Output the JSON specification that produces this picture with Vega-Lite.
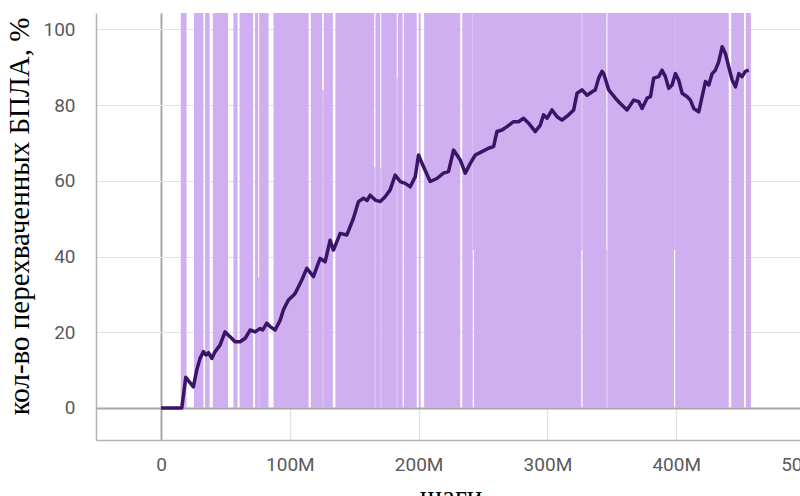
{
  "$schema": "https://vega.github.io/schema/vega-lite/v6.json",
  "width": 709,
  "height": 427,
  "autosize": "none",
  "padding": {"left": 96, "top": 13, "right": -5, "bottom": 56},
  "background": "white",
  "config": {"view": {"stroke": null}},
  "datasets": {
    "raw": [
      {"start": 15300000, "end": 19800000, "low": 0, "high": 105},
      {"start": 25600000, "end": 32900000, "low": 0, "high": 105},
      {"start": 34200000, "end": 37700000, "low": 0, "high": 105},
      {"start": 40200000, "end": 52100000, "low": 0, "high": 105},
      {"start": 56200000, "end": 59400000, "low": 0, "high": 105},
      {"start": 61000000, "end": 71500000, "low": 0, "high": 105},
      {"start": 73000000, "end": 75400000, "low": 0, "high": 105},
      {"start": 75400000, "end": 76200000, "low": 0, "high": 34.5},
      {"start": 76200000, "end": 83500000, "low": 0, "high": 105},
      {"start": 87300000, "end": 114600000, "low": 0, "high": 105},
      {"start": 116300000, "end": 125100000, "low": 0, "high": 105},
      {"start": 125100000, "end": 126300000, "low": 0, "high": 84},
      {"start": 126300000, "end": 133400000, "low": 0, "high": 105},
      {"start": 135400000, "end": 165500000, "low": 0, "high": 105},
      {"start": 165500000, "end": 166500000, "low": 0, "high": 63.6},
      {"start": 166500000, "end": 170200000, "low": 0, "high": 105},
      {"start": 170200000, "end": 171000000, "low": 0, "high": 63.6},
      {"start": 171000000, "end": 183000000, "low": 0, "high": 105},
      {"start": 183000000, "end": 183800000, "low": 0, "high": 87},
      {"start": 183800000, "end": 187600000, "low": 0, "high": 105},
      {"start": 188500000, "end": 198500000, "low": 0, "high": 105},
      {"start": 200100000, "end": 201600000, "low": 0, "high": 105},
      {"start": 204300000, "end": 232300000, "low": 0, "high": 105},
      {"start": 233900000, "end": 242000000, "low": 0, "high": 105},
      {"start": 242000000, "end": 243000000, "low": 41.7, "high": 105},
      {"start": 243000000, "end": 326300000, "low": 0, "high": 105},
      {"start": 326300000, "end": 327300000, "low": 41.7, "high": 105},
      {"start": 327300000, "end": 345800000, "low": 0, "high": 105},
      {"start": 345800000, "end": 346600000, "low": 0, "high": 41.7},
      {"start": 346600000, "end": 398300000, "low": 0, "high": 105},
      {"start": 398300000, "end": 399200000, "low": 41.7, "high": 105},
      {"start": 399200000, "end": 440800000, "low": 0, "high": 105},
      {"start": 442700000, "end": 452600000, "low": 0, "high": 105},
      {"start": 454000000, "end": 458000000, "low": 0, "high": 105}
    ],
    "smooth": [
      {"step": 0, "value": 0},
      {"step": 16100000, "value": 0},
      {"step": 19200000, "value": 8.1},
      {"step": 25100000, "value": 5.6},
      {"step": 27700000, "value": 10.0},
      {"step": 30300000, "value": 13.1},
      {"step": 32900000, "value": 14.9},
      {"step": 34800000, "value": 14.0},
      {"step": 36800000, "value": 14.6},
      {"step": 39400000, "value": 13.1},
      {"step": 42000000, "value": 14.9},
      {"step": 45800000, "value": 16.6},
      {"step": 49700000, "value": 20.1},
      {"step": 53600000, "value": 18.8},
      {"step": 57500000, "value": 17.5},
      {"step": 61400000, "value": 17.5},
      {"step": 65300000, "value": 18.4},
      {"step": 69200000, "value": 20.6},
      {"step": 73000000, "value": 20.1},
      {"step": 76900000, "value": 21.0},
      {"step": 79000000, "value": 20.6},
      {"step": 82100000, "value": 22.4},
      {"step": 84700000, "value": 21.5},
      {"step": 88600000, "value": 20.6},
      {"step": 92500000, "value": 23.2},
      {"step": 95000000, "value": 25.9},
      {"step": 98900000, "value": 28.5},
      {"step": 101600000, "value": 29.4},
      {"step": 104000000, "value": 30.2},
      {"step": 106700000, "value": 32.0},
      {"step": 109300000, "value": 33.8},
      {"step": 113200000, "value": 36.9},
      {"step": 118300000, "value": 34.7},
      {"step": 123500000, "value": 39.5},
      {"step": 127400000, "value": 38.6},
      {"step": 131300000, "value": 44.3},
      {"step": 133900000, "value": 41.7},
      {"step": 139100000, "value": 46.1},
      {"step": 144300000, "value": 45.7},
      {"step": 149400000, "value": 50.1},
      {"step": 153300000, "value": 54.5},
      {"step": 157200000, "value": 55.4},
      {"step": 160000000, "value": 54.8},
      {"step": 162400000, "value": 56.2},
      {"step": 166300000, "value": 54.9},
      {"step": 170200000, "value": 54.5},
      {"step": 174000000, "value": 55.8},
      {"step": 177900000, "value": 57.6},
      {"step": 181800000, "value": 61.5},
      {"step": 185700000, "value": 59.8},
      {"step": 189600000, "value": 59.3},
      {"step": 193500000, "value": 58.4},
      {"step": 197400000, "value": 61.1},
      {"step": 199900000, "value": 66.8},
      {"step": 203800000, "value": 63.7},
      {"step": 209000000, "value": 59.8},
      {"step": 214200000, "value": 60.6},
      {"step": 219300000, "value": 62.0},
      {"step": 223200000, "value": 62.4},
      {"step": 227100000, "value": 68.1},
      {"step": 232300000, "value": 65.5},
      {"step": 236200000, "value": 62.0},
      {"step": 240100000, "value": 64.6},
      {"step": 244000000, "value": 66.8},
      {"step": 249200000, "value": 67.7},
      {"step": 254300000, "value": 68.6},
      {"step": 258200000, "value": 69.0},
      {"step": 260800000, "value": 73.0},
      {"step": 264700000, "value": 73.4},
      {"step": 268600000, "value": 74.3},
      {"step": 273700000, "value": 75.6},
      {"step": 277600000, "value": 75.6},
      {"step": 281500000, "value": 76.5},
      {"step": 285400000, "value": 75.2},
      {"step": 290600000, "value": 73.0},
      {"step": 294500000, "value": 74.7},
      {"step": 297000000, "value": 77.4},
      {"step": 299700000, "value": 76.5},
      {"step": 303600000, "value": 78.7},
      {"step": 307500000, "value": 76.9},
      {"step": 311300000, "value": 76.0},
      {"step": 316500000, "value": 77.4},
      {"step": 320400000, "value": 78.7},
      {"step": 323000000, "value": 83.1},
      {"step": 326900000, "value": 84.0},
      {"step": 330800000, "value": 82.6},
      {"step": 334700000, "value": 83.5},
      {"step": 337200000, "value": 84.0},
      {"step": 339800000, "value": 87.1},
      {"step": 342400000, "value": 88.9},
      {"step": 343700000, "value": 88.3},
      {"step": 347600000, "value": 84.0},
      {"step": 352800000, "value": 81.8},
      {"step": 356600000, "value": 80.4},
      {"step": 361800000, "value": 78.7},
      {"step": 367000000, "value": 81.3},
      {"step": 370900000, "value": 80.9},
      {"step": 373500000, "value": 79.1},
      {"step": 377400000, "value": 81.8},
      {"step": 380000000, "value": 82.2},
      {"step": 382500000, "value": 87.1},
      {"step": 386400000, "value": 87.5},
      {"step": 389000000, "value": 89.2},
      {"step": 391600000, "value": 87.5},
      {"step": 394200000, "value": 84.4},
      {"step": 396800000, "value": 85.3},
      {"step": 399400000, "value": 88.3},
      {"step": 401900000, "value": 86.6},
      {"step": 404600000, "value": 83.1},
      {"step": 408500000, "value": 82.2},
      {"step": 411000000, "value": 81.3},
      {"step": 413600000, "value": 79.1},
      {"step": 417500000, "value": 78.2},
      {"step": 420100000, "value": 82.2},
      {"step": 422700000, "value": 86.2},
      {"step": 425300000, "value": 85.3},
      {"step": 427900000, "value": 88.3},
      {"step": 430400000, "value": 89.2},
      {"step": 433000000, "value": 91.4},
      {"step": 435700000, "value": 95.4},
      {"step": 438200000, "value": 93.6},
      {"step": 440800000, "value": 90.1},
      {"step": 443400000, "value": 86.6},
      {"step": 446000000, "value": 84.8},
      {"step": 448600000, "value": 88.3},
      {"step": 451200000, "value": 87.5},
      {"step": 453700000, "value": 88.9},
      {"step": 456300000, "value": 89.2}
    ]
  },
  "layer": [
    {
      "data": {"name": "raw"},
      "mark": {"type": "rect", "color": "#cfaff0", "clip": true},
      "encoding": {
        "x": {
          "field": "start", "type": "quantitative", "title": "шаги",
          "scale": {"domain": [-50500000, 500000000], "nice": false, "zero": false},
          "axis": {
            "values": [0, 100000000, 200000000, 300000000, 400000000, 500000000],
            "labelExpr": "datum.value === 0 ? '0' : format(datum.value, '~s')",
            "grid": true,
            "gridColor": {"condition": {"test": "datum.value === 0", "value": "#a8a8a8"}, "value": "#e2e2e2"},
            "gridWidth": {"condition": {"test": "datum.value === 0", "value": 2}, "value": 1.2},
            "ticks": false,
            "domainColor": "#b3b3b3",
            "domainWidth": 1.5,
            "labelFont": "Roboto",
            "labelFontSize": 19,
            "labelColor": "#5a5a5a",
            "labelPadding": 15,
            "labelFlush": false,
            "labelOverlap": false,
            "titleFont": "Liberation Serif",
            "titleFontSize": 29,
            "titleFontWeight": "normal",
            "titleColor": "#000000",
            "titlePadding": 8
          }
        },
        "x2": {"field": "end"},
        "y": {
          "field": "low", "type": "quantitative", "title": "кол-во перехваченных БПЛА, %",
          "scale": {"domain": [-8.45, 104.3], "nice": false, "zero": false},
          "axis": {
            "values": [0, 20, 40, 60, 80, 100],
            "grid": true,
            "gridColor": {"condition": {"test": "datum.value === 0", "value": "#a8a8a8"}, "value": "#e2e2e2"},
            "gridWidth": {"condition": {"test": "datum.value === 0", "value": 2}, "value": 1.2},
            "ticks": false,
            "domainColor": "#b3b3b3",
            "domainWidth": 1.5,
            "labelFont": "Roboto",
            "labelFontSize": 19,
            "labelColor": "#5a5a5a",
            "labelPadding": 21,
            "labelFlush": false,
            "labelOverlap": false,
            "titleFont": "Liberation Serif",
            "titleFontSize": 29,
            "titleFontWeight": "normal",
            "titleColor": "#000000",
            "titlePadding": 8,
            "titleY": 203
          }
        },
        "y2": {"field": "high"}
      }
    },
    {
      "data": {"name": "smooth"},
      "mark": {"type": "line", "color": "#3b1468", "strokeWidth": 3.5, "clip": true, "strokeJoin": "round"},
      "encoding": {
        "x": {"field": "step", "type": "quantitative", "title": "шаги"},
        "y": {"field": "value", "type": "quantitative", "title": "кол-во перехваченных БПЛА, %"}
      }
    }
  ]
}
